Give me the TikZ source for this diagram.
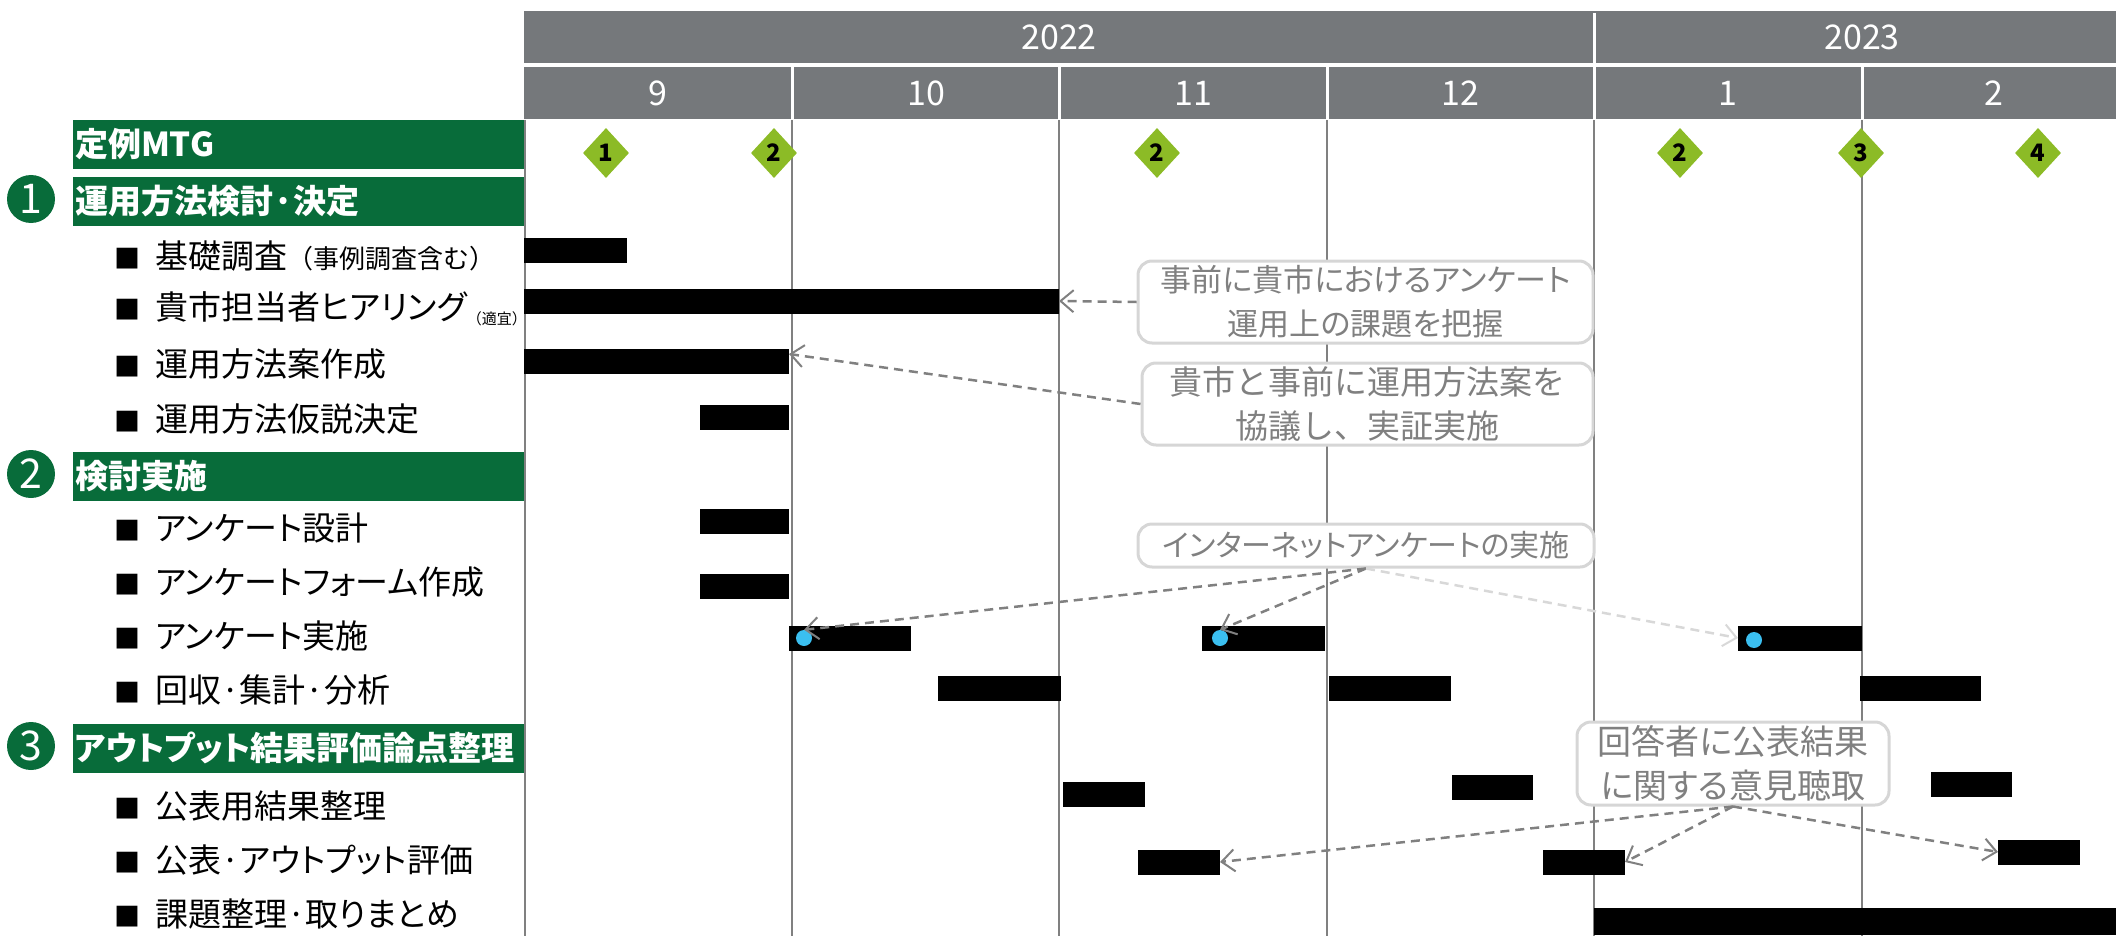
\documentclass[tikz,border=0pt]{standalone}
\usepackage{fontspec}
\setmainfont{Noto Sans CJK JP}[RawFeature=+palt]
\newfontfamily\jpfw{Noto Sans CJK JP}
\usetikzlibrary{shapes.geometric,arrows.meta,calc}
\definecolor{hdr}{HTML}{75787B}
\definecolor{grn}{HTML}{086C3A}
\definecolor{dia}{HTML}{8CBB26}
\definecolor{bdot}{HTML}{3BBFF0}
\definecolor{cbord}{HTML}{D6D6D6}
\definecolor{ctext}{HTML}{808080}
\definecolor{gridc}{HTML}{808080}
\definecolor{lightarr}{HTML}{D8D8D8}
\newcommand\rowlabel[1]{{\fontsize{26}{26}\selectfont ■}\hspace{15pt}#1}
\begin{document}
\begin{tikzpicture}[x=1pt,y=-1pt,
  hdrtext/.style={text=white,inner sep=0,font=\fontsize{34}{36}\selectfont},
  section/.style={fill=grn,text=white,anchor=west,minimum height=49pt,text width=447pt,inner xsep=2pt,inner ysep=0pt,align=left,outer sep=0,font=\fontsize{33}{36}\selectfont\bfseries},
  numcirc/.style={circle,fill=grn,text=white,minimum size=48pt,inner sep=0,font=\fontsize{41}{41}\selectfont},
  item/.style={anchor=west,inner sep=0,font=\fontsize{33}{36}\selectfont},
  bar/.style={fill=black,anchor=west,minimum height=25pt,inner sep=0,outer sep=0},
  mtg/.style={diamond,fill=dia,minimum width=46pt,minimum height=50pt,inner sep=0,font=\fontsize{24}{24}\selectfont\bfseries},
  bluedot/.style={circle,fill=bdot,minimum size=16pt,inner sep=0},
  callout/.style={draw=cbord,line width=3pt,rounded corners=14pt,fill=white,text=ctext,align=center,inner sep=0},
  gridline/.style={draw=gridc,line width=2.5pt},
  conn/.style={draw=ctext,line width=2.5pt,dash pattern=on 9pt off 6pt,-{Straight Barb[length=13pt,width=22pt,line width=2pt]}}
]
\useasboundingbox (0,0) rectangle (2116,936);

% header
\fill[hdr] (524,11) rectangle (2116,63);
\fill[hdr] (524,67) rectangle (2116,119);
\foreach \x in {792,1059,1327,1594,1862} \draw[white,line width=3pt] (\x,67) -- (\x,119);
\draw[white,line width=3pt] (1594,13) -- (1594,63);
\node[hdrtext] (y2022) at (1059,37) {2022};
\node[hdrtext] (y2023) at (1862,37) {2023};
\node[hdrtext] (m9) at (658,93) {9};
\node[hdrtext] (m10) at (926,93) {10};
\node[hdrtext] (m11) at (1193,93) {11};
\node[hdrtext] (m12) at (1460,93) {12};
\node[hdrtext] (m1) at (1728,93) {1};
\node[hdrtext] (m2) at (1994,93) {2};

% grid
\foreach \x in {792,1059,1327,1594,1862} \draw[gridline] (\x,120) -- (\x,936);
\draw[gridline,line width=2pt] (525,120) -- (525,936);

% sections
\node[section] (s0) at (73,144.5) {定例MTG};
\node[section] (s1) at (73,201.5) {運用方法検討·決定};
\node[section] (s2) at (73,476.5) {検討実施};
\node[section] (s3) at (73,748) {アウトプット結果評価論点整理};
\node[numcirc] (n1) at (31,199) {1};
\node[numcirc] (n2) at (31,474) {2};
\node[numcirc] (n3) at (31,746) {3};

% items
\node[item] (t1) at (114,256) {\rowlabel{基礎調査{\jpfw\fontsize{26}{26}\selectfont （事例調査含む）}}};
\node[item] (t2) at (114,309) {\rowlabel{貴市担当者ヒアリング\raisebox{-5pt}{\jpfw\fontsize{15}{15}\selectfont （適宜）}}};
\node[item] (t3) at (114,364) {\rowlabel{運用方法案作成}};
\node[item] (t4) at (114,419) {\rowlabel{運用方法仮説決定}};
\node[item] (t5) at (114,528) {\rowlabel{アンケート設計}};
\node[item] (t6) at (114,582) {\rowlabel{アンケートフォーム作成}};
\node[item] (t7) at (114,636) {\rowlabel{アンケート実施}};
\node[item] (t8) at (114,690) {\rowlabel{回収·集計·分析}};
\node[item] (t9) at (114,806) {\rowlabel{公表用結果整理}};
\node[item] (t10) at (114,860) {\rowlabel{公表·アウトプット評価}};
\node[item] (t11) at (114,914) {\rowlabel{課題整理·取りまとめ}};

% bars
\node[bar,minimum width=103pt] (bKiso) at (524,250) {};
\node[bar,minimum width=535pt] (bHear) at (524,301) {};
\node[bar,minimum width=265pt] (bPlan) at (524,361) {};
\node[bar,minimum width=89pt] (bKasetsu) at (700,417) {};
\node[bar,minimum width=89pt] (bSekkei) at (700,521) {};
\node[bar,minimum width=89pt] (bForm) at (700,586) {};
\node[bar,minimum width=122pt] (e1) at (789,638) {};
\node[bar,minimum width=123pt] (e2) at (1202,638) {};
\node[bar,minimum width=124pt] (e3) at (1738,638) {};
\node[bar,minimum width=123pt] (f1) at (938,688) {};
\node[bar,minimum width=122pt] (f2) at (1329,688) {};
\node[bar,minimum width=121pt] (f3) at (1860,688) {};
\node[bar,minimum width=82pt] (g1) at (1063,794) {};
\node[bar,minimum width=81pt] (g2) at (1452,787) {};
\node[bar,minimum width=81pt] (g3) at (1931,784) {};
\node[bar,minimum width=82pt] (h1) at (1138,862) {};
\node[bar,minimum width=82pt] (h2) at (1543,862) {};
\node[bar,minimum width=82pt] (h3) at (1998,852) {};
\node[bar,minimum width=522pt,minimum height=27pt] (kadai) at (1594,921) {};

% milestones
\node[mtg] (q1) at (606,153) {1};
\node[mtg] (q2) at (774,153) {2};
\node[mtg] (q3) at (1157,153) {2};
\node[mtg] (q4) at (1680,153) {2};
\node[mtg] (q5) at (1861,153) {3};
\node[mtg] (q6) at (2038,153) {4};

% dots
\node[bluedot] (d1) at (804,638) {};
\node[bluedot] (d2) at (1220,638) {};
\node[bluedot] (d3) at (1754,640) {};

% callouts
\node[callout,minimum width=455pt,minimum height=82pt,font=\fontsize{31}{44}\selectfont] (c1) at (1365.5,302) {事前に貴市におけるアンケート\\運用上の課題を把握};
\node[callout,minimum width=451pt,minimum height=82pt,font=\jpfw\fontsize{33}{44}\selectfont] (c2) at (1367.5,404) {貴市と事前に運用方法案を\\協議し、実証実施};
\node[callout,minimum width=456pt,minimum height=43pt,font=\fontsize{30}{44}\selectfont] (c3) at (1366,545.5) {インターネットアンケートの実施};
\node[callout,minimum width=312pt,minimum height=83pt,font=\fontsize{34}{44}\selectfont] (c4) at (1733,763.5) {回答者に公表結果\\に関する意見聴取};

% connectors
\draw[conn] (c1.west) -- (bHear.east);
\draw[conn] (c2.west) -- ([yshift=7pt]bPlan.east);
\draw[conn] (c3.south) -- (d1.north);
\draw[conn] (c3.south) -- (d2.north);
\draw[conn,draw=lightarr] (c3.south) -- (e3.west);
\draw[conn] (c4.south) -- (h1.east);
\draw[conn] (c4.south) -- (h2.east);
\draw[conn] (c4.south) -- (h3.west);
\end{tikzpicture}
\end{document}
